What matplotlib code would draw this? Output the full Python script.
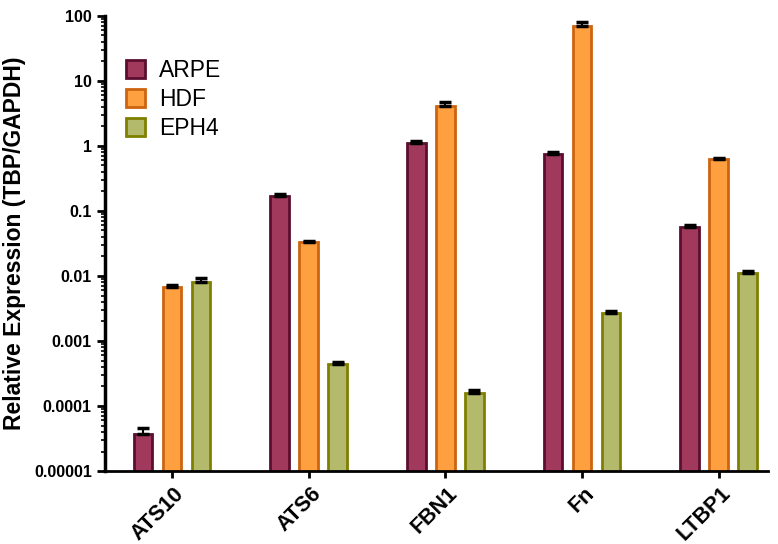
import matplotlib
matplotlib.use('Agg')
import matplotlib.pyplot as plt
import matplotlib.transforms as mtransforms
import numpy as np
from matplotlib.ticker import FixedLocator, FixedFormatter, LogLocator, NullFormatter

plt.rcParams['font.family'] = ['Liberation Sans', 'DejaVu Sans']

# data
genes = ['ATS10', 'ATS6', 'FBN1', 'Fn', 'LTBP1']
arpe = [3.7e-5, 0.17, 1.12, 0.75, 0.057]
arpe_err = [0.9e-5, 0.012, 0.08, 0.05, 0.003]
hdf = [0.0068, 0.033, 4.1, 70, 0.63]
hdf_err = [0.0004, 0.002, 0.7, 9, 0.03]
eph4 = [0.0081, 0.00044, 0.00016, 0.0027, 0.0111]
eph4_err = [0.0013, 0.00003, 0.000015, 0.0002, 0.0008]

series = [('ARPE', arpe, arpe_err, '#A0395C', '#5C0E30'),
          ('HDF', hdf, hdf_err, '#FFA040', '#CC6410'),
          ('EPH4', eph4, eph4_err, '#B3BA6C', '#7F8000')]

fig = plt.figure(figsize=(7.78, 5.44), dpi=100)
ax = fig.add_axes([0.135, 0.134, 0.852, 0.837])

x = np.arange(len(genes))
w = 0.135
offs = [-0.212, 0.0, 0.212]
for (name, vals, errs, fc, ec), o in zip(series, offs):
    ax.bar(x + o, vals, width=w, color=fc, edgecolor=ec, linewidth=2, label=name)
    ax.errorbar(x + o, vals, yerr=[np.zeros(len(vals)), errs], fmt='none',
                ecolor='black', elinewidth=1.5, capsize=4.5, capthick=2.5)

ax.set_yscale('log')
ax.set_ylim(1e-5, 100)
ax.set_xlim(-0.49, 4.36)
yt = [1e-5, 1e-4, 1e-3, 1e-2, 1e-1, 1, 10, 100]
ax.yaxis.set_major_locator(FixedLocator(yt))
ax.yaxis.set_major_formatter(FixedFormatter(['0.00001', '0.0001', '0.001', '0.01', '0.1', '1', '10', '100']))
ax.yaxis.set_minor_locator(LogLocator(base=10, subs=np.arange(2, 10)))
ax.yaxis.set_minor_formatter(NullFormatter())
ax.tick_params(axis='y', which='major', length=6, width=2, labelsize=11.5)
ax.tick_params(axis='y', which='minor', length=3, width=1.2)
ax.tick_params(axis='x', length=5, width=2, labelsize=15.5, pad=9)
for lab in ax.get_yticklabels():
    lab.set_fontweight('bold')

ax.set_xticks(x)
ax.set_xticklabels(genes, rotation=45, ha='right', va='center', rotation_mode='anchor', fontweight='bold')
shift = mtransforms.ScaledTranslation(9 / 100, 0, fig.dpi_scale_trans)
for lab in ax.get_xticklabels():
    lab.set_transform(lab.get_transform() + shift)
ax.set_ylabel('Relative Expression (TBP/GAPDH)', fontsize=16.5, fontweight='bold', labelpad=6)

ax.spines['top'].set_visible(False)
ax.spines['right'].set_visible(False)
ax.spines['left'].set_linewidth(2.5)
ax.spines['bottom'].set_linewidth(2)

ax.legend(loc='upper left', bbox_to_anchor=(0.0, 0.95), frameon=False, fontsize=16.5,
          handlelength=0.85, handleheight=0.85, handletextpad=0.6, labelspacing=0.25)

fig.savefig('out.png', dpi=100)
